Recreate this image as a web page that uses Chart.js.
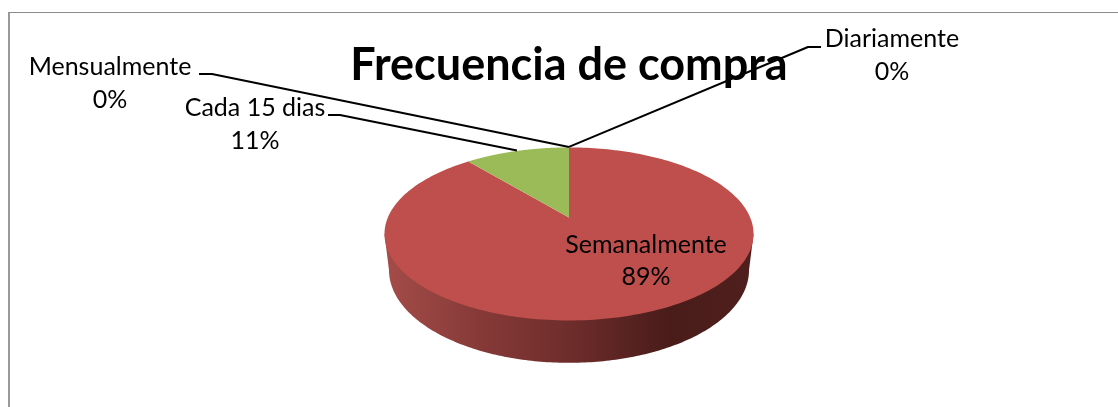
<!DOCTYPE html>
<html>
<head>
<meta charset="utf-8">
<style>
html,body{margin:0;padding:0;background:#fff;}
#frame{position:absolute;left:8px;top:12px;right:-10px;bottom:-10px;border-left:2px solid #9a9a9a;border-top:1.5px solid #8c8c8c;}
#wrap{position:absolute;left:0;top:0;width:1118px;height:407px;}
</style>
<script src="https://cdn.jsdelivr.net/npm/chart.js@4/dist/chart.umd.js"></script>
</head>
<body>
<div id="frame"></div>
<div id="wrap"><canvas id="c" width="1118" height="407"></canvas></div>
<script>
const chartTitle = 'Frecuencia de compra';
const categories = ['Diariamente', 'Semanalmente', 'Cada 15 dias', 'Mensualmente'];
const values = [0, 89, 11, 0];
const sliceColors = ['#4F81BD', '#BE4F4C', '#9BBB59', '#8064A2'];

const labelFont = '25px Lato, "Open Sans", sans-serif';
const labelBoxes = [
  {cx: 892, y1: 39, y2: 72, leader: [[821, 47], [808, 47]]},
  {cx: 646, y1: 245, y2: 277, leader: null},
  {cx: 255, y1: 108, y2: 141, leader: [[328, 115], [340, 115]]},
  {cx: 110, y1: 67, y2: 100, leader: [[199, 74], [212, 74]]}
];

// perspective projection of the pie disc
const TILT = 0.19, KX = 0.956, KY = 0.44;
function project(arc, a) {
  const u = Math.cos(a), v = -Math.sin(a), w = 1 + TILT * v, R = arc.outerRadius;
  return [arc.x + KX * R * u / w, arc.y - KY * R * v / w];
}

function drawSide(ctx, arc) {
  const R = arc.outerRadius;
  const cx = arc.x, cy = arc.y + 0.277 * R, rx = 0.95 * R, ry = 0.49 * R;
  const sideA = Math.asin(TILT);
  const g = ctx.createLinearGradient(cx - rx, 0, cx + rx, 0);
  g.addColorStop(0, '#A34B48');
  g.addColorStop(0.25, '#863A38');
  g.addColorStop(0.5, '#6E2D2B');
  g.addColorStop(0.78, '#491C1A');
  g.addColorStop(1, '#4F1F1D');
  ctx.beginPath();
  const l = project(arc, Math.PI - sideA + 0), r = project(arc, sideA);
  ctx.moveTo(r[0], r[1]);
  for (let i = 0; i <= 180; i++) {
    const t = i / 180 * Math.PI;
    ctx.lineTo(cx + rx * Math.cos(t), cy + ry * Math.sin(t));
  }
  ctx.lineTo(l[0], l[1]);
  ctx.closePath();
  ctx.fillStyle = g;
  ctx.fill();
}

const piePerspective = {
  id: 'piePerspective',
  beforeDatasetsDraw(chart) {
    const arcs = chart.getDatasetMeta(0).data;
    drawSide(chart.ctx, arcs[0]);
    arcs.forEach(arc => {
      arc.draw = function (ctx) {
        if (this.endAngle - this.startAngle <= 0) return;
        const n = 240;
        ctx.save();
        ctx.beginPath();
        ctx.moveTo(this.x, this.y);
        for (let i = 0; i <= n; i++) {
          const p = project(this, this.startAngle + (this.endAngle - this.startAngle) * i / n);
          ctx.lineTo(p[0], p[1]);
        }
        ctx.closePath();
        ctx.fillStyle = this.options.backgroundColor;
        ctx.fill();
        ctx.restore();
      };
    });
  },
  afterDatasetsDraw(chart) {
    const ctx = chart.ctx, arcs = chart.getDatasetMeta(0).data;
    const total = values.reduce((s, v) => s + v, 0);
    ctx.save();
    ctx.strokeStyle = '#000';
    ctx.lineWidth = 2;
    ctx.lineJoin = 'round';
    arcs.forEach((arc, i) => {
      const b = labelBoxes[i];
      if (!b.leader) return;
      const p = project(arc, (arc.startAngle + arc.endAngle) / 2);
      ctx.beginPath();
      ctx.moveTo(b.leader[0][0], b.leader[0][1]);
      ctx.lineTo(b.leader[1][0], b.leader[1][1]);
      ctx.lineTo(p[0], p[1] - 0.5);
      ctx.stroke();
    });
    ctx.fillStyle = '#000';
    ctx.font = labelFont;
    ctx.textAlign = 'center';
    ctx.textBaseline = 'middle';
    categories.forEach((name, i) => {
      const b = labelBoxes[i];
      ctx.fillText(name, b.cx, b.y1);
      ctx.fillText(Math.round(values[i] / total * 100) + '%', b.cx, b.y2);
    });
    ctx.restore();
  }
};

new Chart(document.getElementById('c'), {
  type: 'pie',
  data: {
    labels: categories,
    datasets: [{data: values, backgroundColor: sliceColors, borderWidth: 0}]
  },
  options: {
    responsive: false,
    animation: false,
    layout: {padding: {left: 20, top: 0, right: 0, bottom: 0}},
    plugins: {
      legend: {display: false},
      tooltip: {enabled: false},
      title: {
        display: true,
        text: chartTitle,
        color: '#000',
        font: {family: 'Lato, "Open Sans", sans-serif', size: 45, weight: 'bold', lineHeight: 1.2},
        padding: {top: 38, bottom: -64}
      }
    }
  },
  plugins: [piePerspective]
});
</script>
</body>
</html>
